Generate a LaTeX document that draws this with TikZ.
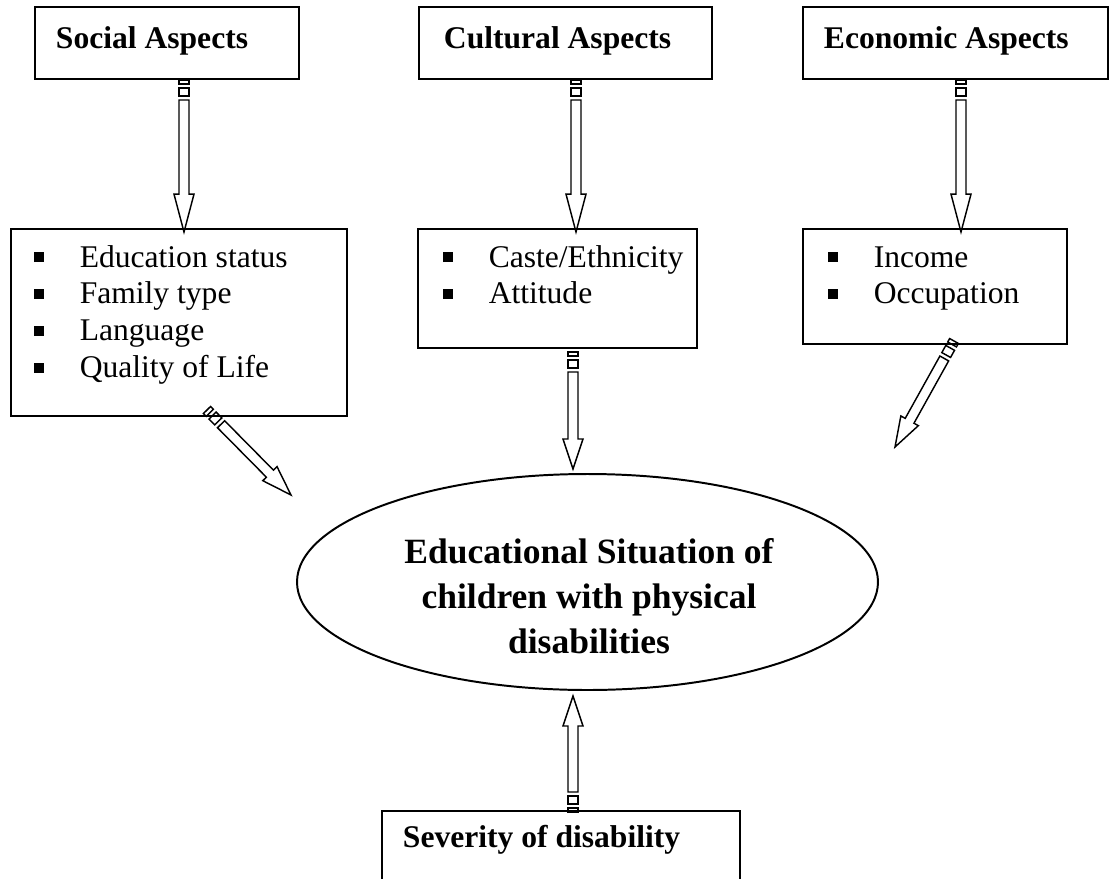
\documentclass[tikz,border=0pt]{standalone}
\usepackage{fontspec}
\setmainfont{Liberation Serif}
\usetikzlibrary{shapes.geometric,calc}

\tikzset{every picture/.style={line width=0.75pt}}
\tikzset{
  aspectbox/.style={draw, rectangle, inner sep=0pt, minimum height=27.36pt},
  listbox/.style={draw, rectangle, inner sep=0pt},
  boldlabel/.style={anchor=base west, inner sep=0pt, font=\bfseries\fontsize{12}{14}\selectfont},
  itemlist/.style={anchor=base west, inner sep=0pt, font=\fontsize{12}{14}\selectfont},
  arrowpart/.style={draw, line width=0.55pt, line join=miter}
}

\newcommand{\sqb}{\makebox[17.4pt][l]{\rule[1.9pt]{3.7pt}{3.7pt}}}

% striped block arrow: #1 tail, #2 tip, #3 head length
\newcommand{\stripedarrow}[3]{%
  \draw[arrowpart] ($(#1)!1.9pt!90:(#2)$) -- ($(#1)!1.5pt!(#2)!1.9pt!90:(#2)$)
    -- ($(#1)!1.5pt!(#2)!1.9pt!-90:(#2)$) -- ($(#1)!1.9pt!-90:(#2)$) -- cycle;
  \draw[arrowpart] ($(#1)!3pt!(#2)!1.9pt!90:(#2)$) -- ($(#1)!6.1pt!(#2)!1.9pt!90:(#2)$)
    -- ($(#1)!6.1pt!(#2)!1.9pt!-90:(#2)$) -- ($(#1)!3pt!(#2)!1.9pt!-90:(#2)$) -- cycle;
  \draw[arrowpart] ($(#1)!7.6pt!(#2)!1.9pt!90:(#2)$) -- ($(#2)!#3!(#1)!1.9pt!-90:(#1)$)
    -- ($(#2)!#3!(#1)!3.8pt!-90:(#1)$) -- (#2) -- ($(#2)!#3!(#1)!3.8pt!90:(#1)$)
    -- ($(#2)!#3!(#1)!1.9pt!90:(#1)$) -- ($(#1)!7.6pt!(#2)!1.9pt!-90:(#2)$) -- cycle;}

\begin{document}
\begin{tikzpicture}[x=0.38pt,y=0.38pt,yscale=-1,xscale=1]
\useasboundingbox (0,0) rectangle (1111,878);

%Shape: Rectangle [aspect boxes]
\node[aspectbox, minimum width=100.32pt] (socbox) at (167,43) {};
\node[aspectbox, minimum width=111.34pt] (culbox) at (565.5,43) {};
\node[aspectbox, minimum width=115.9pt] (ecobox) at (955.5,43) {};
%Shape: Rectangle [list boxes]
\node[listbox, minimum width=127.68pt, minimum height=71.06pt] (soclist) at (179,322.5) {};
\node[listbox, minimum width=106.02pt, minimum height=45.22pt] (cullist) at (557.5,288.5) {};
\node[listbox, minimum width=100.32pt, minimum height=43.7pt] (ecolist) at (935,286.5) {};
%Shape: Ellipse
\node[draw, ellipse, inner sep=0pt, minimum width=220.78pt, minimum height=82.08pt] (edu) at (587.5,582) {};
%Shape: Rectangle [severity]
\node[listbox, minimum width=136.04pt, minimum height=31.92pt] (sevbox) at (561,853) {};

% arrow ends
\coordinate (socA) at ($(socbox.south)+(17,0)$);
\coordinate (socB) at ($(soclist.north)+(5,4)$);
\coordinate (culA) at ($(culbox.south)+(10.5,0)$);
\coordinate (culB) at ($(cullist.north)+(18.5,4)$);
\coordinate (ecoA) at ($(ecobox.south)+(5.5,0)$);
\coordinate (ecoB) at ($(ecolist.north)+(26,4)$);
\coordinate (socC) at ($(soclist.south)+(28,-7)$);
\coordinate (socD) at ($(edu.center)+(-296.5,-87)$);
\coordinate (culC) at ($(cullist.south)+(15.5,3)$);
\coordinate (culD) at ($(edu.north)+(-14.5,-4)$);
\coordinate (ecoC) at ($(ecolist.south)+(19,-4)$);
\coordinate (ecoD) at ($(edu.center)+(307.5,-135)$);
\coordinate (sevA) at ($(sevbox.north)+(12,2)$);
\coordinate (sevB) at ($(edu.south)+(-14.5,5)$);

%Striped Arrows
\stripedarrow{socA}{socB}{14.4pt}
\stripedarrow{culA}{culB}{14.4pt}
\stripedarrow{ecoA}{ecoB}{14.4pt}
\stripedarrow{socC}{socD}{11.4pt}
\stripedarrow{culC}{culD}{11.4pt}
\stripedarrow{ecoC}{ecoD}{11.4pt}
\stripedarrow{sevA}{sevB}{11.4pt}

% Text Node
\node[boldlabel] (soclabel) at (55,48) {Social Aspects};
% Text Node
\node[boldlabel] (cullabel) at (443,48) {Cultural Aspects};
% Text Node
\node[boldlabel] (ecolabel) at (823,48) {Economic Aspects};
% Text Node
\node[itemlist] (socitems) at (33,267) {\begin{tabular}[t]{@{}l@{}}
  \sqb Education status\\ \sqb Family type\\ \sqb Language\\ \sqb Quality of Life
  \end{tabular}};
% Text Node
\node[itemlist] (culitems) at (442,267) {\begin{tabular}[t]{@{}l@{}}
  \sqb Caste/Ethnicity\\ \sqb Attitude
  \end{tabular}};
% Text Node
\node[itemlist] (ecoitems) at (827,267) {\begin{tabular}[t]{@{}l@{}}
  \sqb Income\\ \sqb Occupation
  \end{tabular}};
% Text Node
\node[inner sep=0pt, align=center, font=\bfseries\fontsize{13.5}{17}\selectfont] (edutext) at (589,596) {Educational Situation of\\children with physical\\disabilities};
% Text Node
\node[boldlabel] (sevlabel) at (402,847) {Severity of disability};

\end{tikzpicture}
\end{document}
